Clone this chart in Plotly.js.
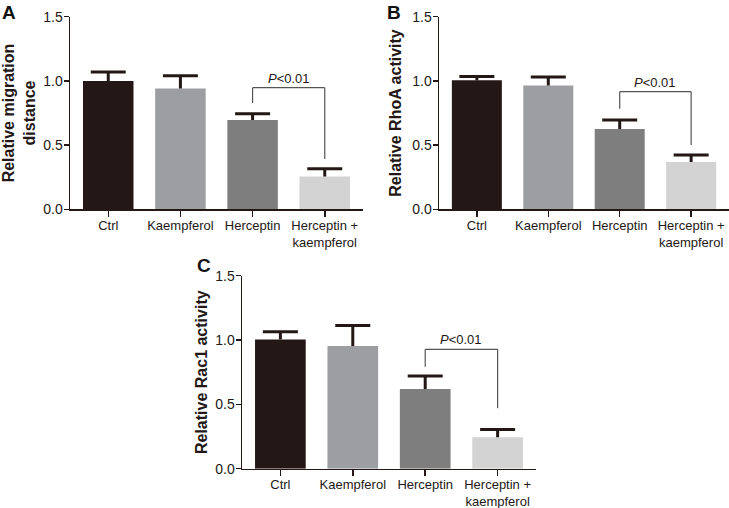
<!DOCTYPE html>
<html>
<head>
<meta charset="utf-8">
<script src="https://cdn.plot.ly/plotly-3.0.1.min.js"></script>
<style>html,body{margin:0;padding:0;background:#fff;}#chart{width:729px;height:508px;}</style>
</head>
<body>
<div id="chart"></div>
<script>
// ---- data ----
const categories = ["Ctrl", "Kaempferol", "Herceptin", "Herceptin +<br>kaempferol"];
const migrationValues = [1.0, 0.94, 0.695, 0.255];
const migrationErrors = [0.07, 0.10, 0.05, 0.06];
const rhoaValues = [1.005, 0.965, 0.625, 0.368];
const rhoaErrors = [0.03, 0.065, 0.07, 0.055];
const rac1Values = [1.005, 0.953, 0.62, 0.245];
const rac1Errors = [0.06, 0.16, 0.10, 0.06];
const yTickVals = [0, 0.5, 1.0, 1.5];
const yTickText = ["0.0", "0.5", "1.0", "1.5"];
// significance brackets: [top, left end bottom, right end bottom]
const bracketA = [0.947, 0.828, 0.392];
const bracketB = [0.916, 0.783, 0.50];
const bracketC = [0.928, 0.793, 0.469];
const sigLabel = "<i>P</i><0.01";
const barColors = ["#231815", "#9d9ea2", "#7e7e7e", "#d3d3d3"];
const axisColor = "#231815";
const FONT = "Liberation Sans, Arial, sans-serif";

const xIdx = categories.map((c, i) => i);

function barTraces(vals, errs, xa, ya) {
  return [{
    type: "bar", x: xIdx, y: vals, xaxis: xa, yaxis: ya,
    width: 0.7,
    marker: {color: barColors, line: {width: 0}},
    error_y: {type: "data", symmetric: false, array: errs, arrayminus: errs.map(() => 0),
      color: axisColor, thickness: 3, width: 0},
    hoverinfo: "none", showlegend: false
  }, {
    // error-bar caps (upper end only)
    type: "scatter", mode: "markers", x: xIdx, y: vals.map((v, i) => v + errs[i]),
    xaxis: xa, yaxis: ya, cliponaxis: false,
    marker: {symbol: "line-ew", size: 25, color: axisColor, line: {width: 3, color: axisColor}},
    hoverinfo: "none", showlegend: false
  }];
}

const data = [].concat(
  barTraces(migrationValues, migrationErrors, "x", "y"),
  barTraces(rhoaValues, rhoaErrors, "x2", "y2"),
  barTraces(rac1Values, rac1Errors, "x3", "y3")
);

function xAxis(domain, anchor, standoff) {
  return {
    domain: domain, anchor: anchor, range: [-0.53, 3.53],
    tickmode: "array", tickvals: xIdx, ticktext: categories,
    showline: true, linecolor: axisColor, linewidth: 1.5,
    ticks: "outside", ticklen: 6, tickwidth: 1.5, tickcolor: axisColor,
    ticklabelstandoff: standoff,
    showgrid: false, zeroline: false, fixedrange: true,
    tickfont: {family: FONT, size: 13, color: "#231815"}
  };
}
function yAxis(domain, anchor, title, standoff) {
  return {
    domain: domain, anchor: anchor, range: [0, 1.5],
    tickmode: "array", tickvals: yTickVals, ticktext: yTickText,
    showline: true, linecolor: axisColor, linewidth: 1.5,
    ticks: "outside", ticklen: 5, tickwidth: 1.5, tickcolor: axisColor,
    ticklabelstandoff: -2,
    showgrid: false, zeroline: false, fixedrange: true,
    tickfont: {family: FONT, size: 14, color: "#231815"},
    title: {text: title, standoff: standoff,
      font: {family: FONT, size: 16, color: "#231815", weight: "bold"}}
  };
}

function bracketShapes(br, xa, ya) {
  const line = {color: "#555555", width: 1.2};
  return [
    {type: "line", xref: xa, yref: ya, x0: 2, x1: 2, y0: br[1], y1: br[0], line: line},
    {type: "line", xref: xa, yref: ya, x0: 2, x1: 3, y0: br[0], y1: br[0], line: line},
    {type: "line", xref: xa, yref: ya, x0: 3, x1: 3, y0: br[0], y1: br[2], line: line}
  ];
}
function sigAnnotation(br, xa, ya) {
  return {xref: xa, yref: ya, x: 2.5, y: br[0], yanchor: "bottom", yshift: 0,
    text: sigLabel, showarrow: false,
    font: {family: FONT, size: 13, color: "#231815"}};
}
function panelLabel(letter, px, py) {
  return {xref: "paper", yref: "paper", x: px, y: py, xanchor: "left", yanchor: "top",
    text: "<b>" + letter + "</b>", showarrow: false,
    font: {family: FONT, size: 19, color: "#111111"}};
}

const layout = {
  width: 729, height: 508,
  margin: {l: 0, r: 0, t: 0, b: 0},
  paper_bgcolor: "#ffffff", plot_bgcolor: "#ffffff",
  bargap: 0.3,
  xaxis: xAxis([70/729, 363/729], "y", -2),
  yaxis: yAxis([1 - 209.3/508, 1 - 16.7/508], "x", "Relative migration<br>distance", 4),
  xaxis2: xAxis([439/729, 1.0], "y2", -2),
  yaxis2: yAxis([1 - 209.3/508, 1 - 16.7/508], "x2", "Relative RhoA activity", 6),
  xaxis3: xAxis([242/729, 536/729], "y3", -3),
  yaxis3: yAxis([1 - 468.7/508, 1 - 275.7/508], "x3", "Relative Rac1 activity", 3),
  shapes: [].concat(bracketShapes(bracketA, "x", "y"), bracketShapes(bracketB, "x2", "y2"), bracketShapes(bracketC, "x3", "y3")),
  annotations: [
    sigAnnotation(bracketA, "x", "y"),
    sigAnnotation(bracketB, "x2", "y2"),
    sigAnnotation(bracketC, "x3", "y3"),
    panelLabel("A", 0.0, 1.0),
    panelLabel("B", 385/729, 1.0),
    panelLabel("C", 195/729, 1 - 253/508)
  ]
};

Plotly.newPlot("chart", data, layout, {staticPlot: true, displayModeBar: false});
</script>
</body>
</html>
